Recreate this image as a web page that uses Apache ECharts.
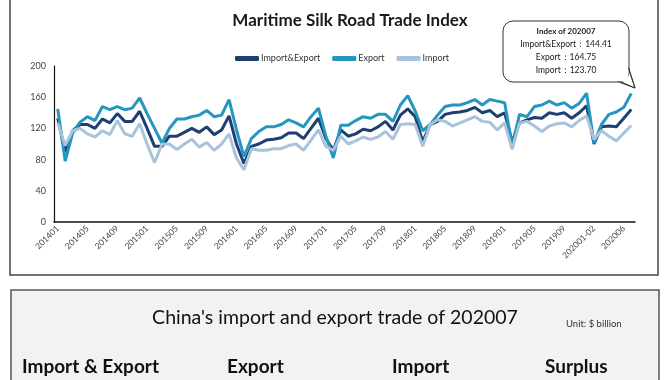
<!DOCTYPE html>
<html>
<head>
<meta charset="utf-8">
<script src="https://cdn.jsdelivr.net/npm/echarts@6/dist/echarts.min.js"></script>
<style>
html,body{margin:0;padding:0;background:#fff;}
#chart{width:670px;height:380px;}
</style>
</head>
<body>
<div id="chart"></div>
<script>
const categories = [
  '201401','201402','201403','201404','201405','201406','201407','201408','201409','201410','201411','201412',
  '201501','201502','201503','201504','201505','201506','201507','201508','201509','201510','201511','201512',
  '201601','201602','201603','201604','201605','201606','201607','201608','201609','201610','201611','201612',
  '201701','201702','201703','201704','201705','201706','201707','201708','201709','201710','201711','201712',
  '201801','201802','201803','201804','201805','201806','201807','201808','201809','201810','201811','201812',
  '201901','201902','201903','201904','201905','201906','201907','201908','201909','201910','201911','201912',
  '202001-02','202003','202004','202005','202006','202007'
];
const importExport = [
  133, 90, 117, 125, 125, 120, 132, 127, 139, 129, 129, 142,
  120, 97, 97, 110, 110, 115, 120, 115, 122, 112, 118, 136,
  100, 75, 97, 100, 105, 106, 108, 114, 114, 107, 120, 133,
  107, 92, 118, 110, 113, 119, 117, 122, 129, 118, 137, 145,
  135, 103, 125, 129, 138, 140, 141, 143, 147, 140, 143, 135,
  140, 103, 127, 131, 134, 133, 140, 138, 140, 133, 140, 149,
  100, 122, 123, 122, 133, 144.41
];
const exportIdx = [
  145, 78, 114, 128, 135, 130, 148, 144, 148, 144, 146, 159,
  139, 120, 101, 120, 132, 132, 135, 137, 143, 135, 137, 157,
  118, 84, 107, 116, 122, 122, 125, 131, 127, 122, 135, 146,
  110, 82, 124, 124, 130, 135, 133, 138, 138, 129, 150, 162,
  142, 117, 125, 137, 148, 150, 150, 153, 157, 150, 157, 155,
  153, 98, 138, 135, 148, 150, 155, 150, 153, 146, 152, 165,
  101, 125, 138, 141, 147, 164.75
];
const importIdx = [
  127, 98, 117, 120, 113, 109, 117, 112, 130, 113, 110, 126,
  100, 76, 100, 100, 93, 100, 106, 96, 102, 92, 100, 113,
  82, 67, 94, 92, 92, 94, 94, 98, 100, 92, 105, 118,
  97, 92, 110, 100, 104, 109, 106, 109, 116, 106, 125, 126,
  125, 97, 125, 131, 129, 123, 127, 131, 135, 129, 128, 118,
  127, 93, 127, 129, 123, 116, 123, 126, 127, 122, 130, 136,
  106, 117, 110, 104, 114, 123.70
];
const seriesNames = ['Import&Export', 'Export', 'Import'];
const calloutLines = ['Index of 202007', 'Import&Export：144.41', 'Export：164.75', 'Import：123.70'];
const tableTitle = "China's import and export trade of 202007";
const unitText = 'Unit: $ billion';
const tableHeads = ['Import & Export', 'Export', 'Import', 'Surplus'];

const FONT = 'Lato, "Open Sans", sans-serif';
const colors = ['#1d3f72', '#2496c0', '#a9c3da'];

const chart = echarts.init(document.getElementById('chart'), null, {renderer: 'canvas'});
const dataSets = [importExport, exportIdx, importIdx];

const option = {
  animation: false,
  backgroundColor: '#ffffff',
  textStyle: {fontFamily: FONT},
  title: {
    text: 'Maritime Silk Road Trade Index',
    left: 345, top: 7, textAlign: 'center',
    textStyle: {fontFamily: FONT, fontSize: 17, fontWeight: 'bold', color: '#1a1a1a'}
  },
  legend: {
    data: seriesNames,
    left: 230, top: 49,
    itemWidth: 24, itemHeight: 5, itemGap: 12,
    icon: 'roundRect',
    textStyle: {fontFamily: FONT, fontSize: 9, color: '#333', padding: [0, 0, 0, -3]}
  },
  grid: {left: 54, right: 35, top: 66, bottom: 158, containLabel: false},
  xAxis: {
    type: 'category',
    data: categories,
    boundaryGap: true,
    axisLine: {lineStyle: {color: '#111', width: 1.5}},
    axisTick: {show: false},
    axisLabel: {
      interval: 3, rotate: 45, fontSize: 8.5, color: '#444', fontFamily: FONT, margin: 5
    }
  },
  yAxis: {
    type: 'value', min: 0, max: 200, interval: 40,
    axisLine: {show: true, lineStyle: {color: '#111', width: 1.2}},
    axisTick: {show: false},
    splitLine: {show: false},
    axisLabel: {fontSize: 9, color: '#444', fontFamily: FONT, margin: 8}
  },
  series: seriesNames.map((n, i) => ({
    name: n, type: 'line', data: dataSets[i],
    symbol: 'none', smooth: false,
    lineStyle: {color: colors[i], width: 3},
    itemStyle: {color: colors[i]},
    z: 2 + i
  })),
  graphic: [
    {type: 'rect', z: 0, silent: true, shape: {x: 10, y: -2, width: 648, height: 277},
     style: {fill: 'none', stroke: '#444', lineWidth: 1.5}},
    {type: 'polygon', z: 10, silent: true,
     shape: {points: [[619, 81], [635, 88], [628, 66]]},
     style: {fill: '#fff', stroke: '#333', lineWidth: 1}},
    {type: 'rect', z: 11, silent: true, shape: {x: 503, y: 21, width: 126, height: 61, r: 10},
     style: {fill: '#fff', stroke: '#333', lineWidth: 1}},
    {type: 'rect', z: 12, silent: true, shape: {x: 617, y: 68, width: 11.4, height: 13.4},
     style: {fill: '#fff', stroke: null}},
    {type: 'polyline', z: 13, silent: true,
     shape: {points: [[617.5, 81.5], [635, 88], [628.5, 68]]},
     style: {fill: null, stroke: '#333', lineWidth: 1}},
    {type: 'text', z: 14, silent: true, x: 566, y: 27,
     style: {text: calloutLines[0], fontFamily: FONT, fontSize: 8, fontWeight: 'bold', fill: '#222', textAlign: 'center'}},
    {type: 'text', z: 14, silent: true, x: 566, y: 40,
     style: {text: calloutLines[1], fontFamily: FONT, fontSize: 8.5, fill: '#222', textAlign: 'center'}},
    {type: 'text', z: 14, silent: true, x: 566, y: 53,
     style: {text: calloutLines[2], fontFamily: FONT, fontSize: 8.5, fill: '#222', textAlign: 'center'}},
    {type: 'text', z: 14, silent: true, x: 566, y: 66,
     style: {text: calloutLines[3], fontFamily: FONT, fontSize: 8.5, fill: '#222', textAlign: 'center'}},
    {type: 'rect', z: 0, silent: true, shape: {x: 11, y: 290, width: 648, height: 95},
     style: {fill: '#f2f2f2', stroke: '#555', lineWidth: 1.5}},
    {type: 'text', z: 1, silent: true, x: 335, y: 308,
     style: {text: tableTitle, fontFamily: FONT, fontSize: 19.5, fill: '#111', textAlign: 'center'}},
    {type: 'text', z: 1, silent: true, x: 566, y: 319,
     style: {text: unitText, fontFamily: FONT, fontSize: 9.5, fill: '#333'}},
    {type: 'text', z: 1, silent: true, x: 22, y: 357,
     style: {text: tableHeads[0], fontFamily: FONT, fontSize: 19, fontWeight: 'bold', fill: '#111'}},
    {type: 'text', z: 1, silent: true, x: 227, y: 357,
     style: {text: tableHeads[1], fontFamily: FONT, fontSize: 19, fontWeight: 'bold', fill: '#111'}},
    {type: 'text', z: 1, silent: true, x: 392, y: 357,
     style: {text: tableHeads[2], fontFamily: FONT, fontSize: 19, fontWeight: 'bold', fill: '#111'}},
    {type: 'text', z: 1, silent: true, x: 545, y: 357,
     style: {text: tableHeads[3], fontFamily: FONT, fontSize: 19, fontWeight: 'bold', fill: '#111'}}
  ]
};
chart.setOption(option);
</script>
</body>
</html>
